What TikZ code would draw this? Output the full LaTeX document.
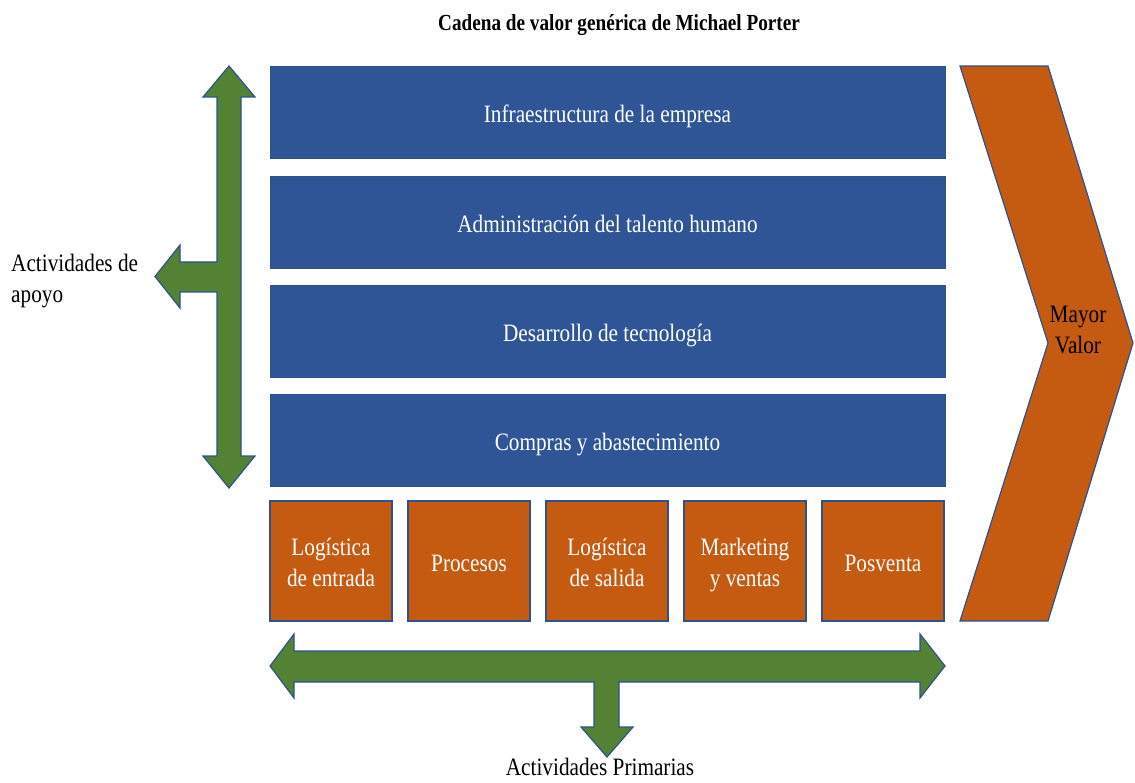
\documentclass[tikz,border=0pt]{standalone}
\usepackage{fontspec}
\setmainfont{Liberation Serif}
\usepackage{graphicx}
\definecolor{boxblue}{HTML}{2F5597}
\definecolor{edgeblue}{HTML}{2F528F}
\definecolor{boxorange}{HTML}{C55A11}
\definecolor{arrgreen}{HTML}{548235}
\newcommand{\nt}[2][4pt]{\raisebox{-#1}[\height][\depth]{\scalebox{0.85}[1]{\begin{tabular}{@{}c@{}}#2\end{tabular}}}}
\newcommand{\ntl}[2][2pt]{\raisebox{-#1}[\height][\depth]{\scalebox{0.85}[1]{\begin{tabular}{@{}l@{}}#2\end{tabular}}}}
\tikzset{
  supportbox/.style={rectangle, fill=boxblue, draw=edgeblue, line width=0.6pt, minimum width=675pt, minimum height=92pt, inner sep=0pt, text=white, font=\fontsize{25}{31}\selectfont},
  primbox/.style={rectangle, fill=boxorange, draw=edgeblue, line width=1.2pt, minimum width=122pt, minimum height=120pt, inner sep=0pt, text=white, font=\fontsize{25}{31}\selectfont},
  bigarrow/.style={fill=arrgreen, draw=edgeblue, line width=1.2pt, line join=miter},
  chevronshape/.style={fill=boxorange, draw=edgeblue, line width=1.2pt, line join=miter},
  plainlabel/.style={inner sep=0pt, text=black, font=\fontsize{25}{31}\selectfont}
}
\begin{document}
\begin{tikzpicture}[x=1pt, y=-1pt]
\useasboundingbox (0,0) rectangle (1135,783);
% title
\node[inner sep=0pt, font=\fontsize{23}{28}\selectfont\bfseries] (title) at (619,25) {\scalebox{0.835}[1]{Cadena de valor genérica de Michael Porter}};
% support activities
\node[supportbox] (infra) at (607.5,112) {\nt{Infraestructura de la empresa}};
\node[supportbox] (talento) at (607.5,222) {\nt{Administración del talento humano}};
\node[supportbox] (tecno) at (607.5,331.5) {\nt{Desarrollo de tecnología}};
\node[supportbox] (compras) at (607.5,440.5) {\nt{Compras y abastecimiento}};
% primary activities
\node[primbox] (login) at (331,561) {\nt{Logística\\de entrada}};
\node[primbox] (proc) at (469,561) {\nt{Procesos}};
\node[primbox] (logout) at (607,561) {\nt{Logística\\de salida}};
\node[primbox] (mkt) at (745,561) {\nt{Marketing\\y ventas}};
\node[primbox] (posv) at (883,561) {\nt{Posventa}};
% chevron
\draw[chevronshape] (960,66) -- (1048,66) -- (1133,343) -- (1048,621) -- (960,621) -- (1048,343) -- cycle;
\node[plainlabel] (mayor) at (1078,330) {\nt[2pt]{Mayor\\Valor}};
% left support arrow
\draw[bigarrow] (229,66) -- (255,97) -- (241,97) -- (241,456) -- (255,456) -- (229,488)
  -- (203,456) -- (217,456) -- (217,292) -- (180,292) -- (180,308) -- (155,276.5)
  -- (180,245) -- (180,262) -- (217,262) -- (217,97) -- (203,97) -- cycle;
\node[plainlabel, anchor=west] (apoyo) at (11,279) {\ntl{Actividades de\\apoyo}};
% bottom primary arrow
\draw[bigarrow] (270,666) -- (294,634) -- (294,651) -- (920,651) -- (920,634) -- (945,666)
  -- (920,698) -- (920,682) -- (619,682) -- (619,727) -- (633,727) -- (607,757)
  -- (581,727) -- (594,727) -- (594,682) -- (294,682) -- (294,698) -- cycle;
\node[plainlabel] (primarias) at (600,769) {\nt[0pt]{Actividades Primarias}};
\end{tikzpicture}
\end{document}
